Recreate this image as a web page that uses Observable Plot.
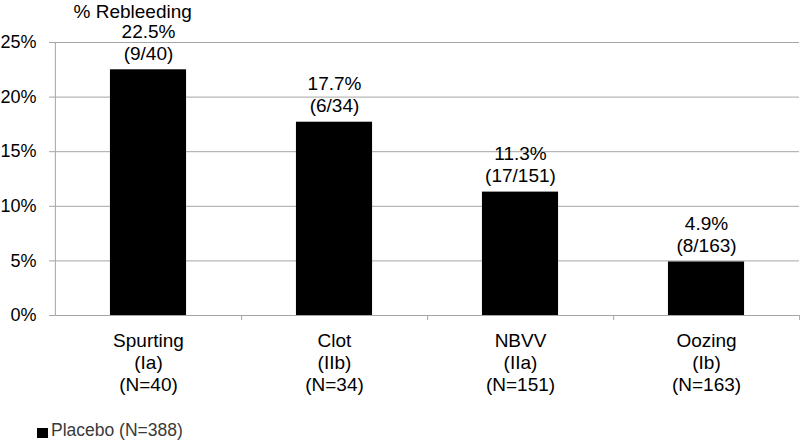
<!DOCTYPE html>
<html>
<head>
<meta charset="utf-8">
<script src="https://cdn.jsdelivr.net/npm/d3@7"></script>
<script src="https://cdn.jsdelivr.net/npm/@observablehq/plot@0.6"></script>
<style>
  html, body { margin: 0; padding: 0; background: #fff; }
  body { width: 800px; height: 442px; overflow: hidden; font-family: "Liberation Sans", Arial, sans-serif; }
  #legend { height: 27px; position: relative; font-size: 17.5px; color: #3a3a3a; }
  #legend .sw { position: absolute; left: 37px; top: 13px; width: 11px; height: 10px; background: #000; }
  #legend .lb { position: absolute; left: 51px; top: 5px; line-height: 20px; }
</style>
</head>
<body>
<div id="chart"></div>
<div id="legend"><span class="sw"></span><span class="lb">Placebo (N=388)</span></div>
<script>
const names = ["Spurting", "Clot", "NBVV", "Oozing"];
const classes = ["(Ia)", "(IIb)", "(IIa)", "(Ib)"];
const groupN = ["(N=40)", "(N=34)", "(N=151)", "(N=163)"];
const rates = [22.5, 17.7, 11.3, 4.9];
const fractions = ["(9/40)", "(6/34)", "(17/151)", "(8/163)"];
const yTicks = [0, 5, 10, 15, 20, 25];
const yTitle = "% Rebleeding";

const data = names.map((n, i) => ({
  cat: `${n}\n${classes[i]}\n${groupN[i]}`,
  rate: rates[i],
  label: `${rates[i].toFixed(1)}%\n${fractions[i]}`
}));

const W = 800, H = 415, mL = 54, mR = 1, mT = 42, mB = 100;
const bw = (W - mL - mR) / names.length;
const inset = bw * (1 - 0.41) / 2;
const FS = 19;

const chart = Plot.plot({
  width: W, height: H,
  marginLeft: mL, marginRight: mR, marginTop: mT, marginBottom: mB,
  style: { fontFamily: "'Liberation Sans', Arial, sans-serif", fontSize: FS + "px", color: "#000", background: "#fff" },
  x: { type: "band", domain: data.map(d => d.cat), padding: 0, label: null },
  y: { domain: [0, 25], label: null },
  marks: [
    Plot.gridY(yTicks, { stroke: "#a6a6a6", strokeOpacity: 1 }),
    Plot.axisY(yTicks, { tickSize: 5, tickPadding: 13, stroke: "#a6a6a6", tickFormat: d => d + "%", label: null, fontSize: 18 }),
    Plot.ruleX([0], { x: () => data[0].cat, dx: -bw / 2, stroke: "#a6a6a6" }),
    Plot.barY(data, { x: "cat", y: "rate", fill: "#000", insetLeft: inset, insetRight: inset }),
    Plot.ruleX(data, { x: "cat", y1: 0, y2: 0, dx: bw / 2, insetBottom: -5, stroke: "#a6a6a6" }),
    Plot.axisX({ tickSize: 0, tickPadding: 16, lineHeight: 1.15, fontSize: FS, label: null }),
    Plot.text(data, { x: "cat", y: "rate", text: "label", lineAnchor: "bottom", lineHeight: 1.17, dy: -10, fontSize: FS, fill: "#000" }),
    Plot.text([yTitle], { frameAnchor: "top-left", textAnchor: "start", lineAnchor: "bottom", dx: 19, dy: -25, fontSize: FS, fill: "#000" })
  ]
});
document.getElementById("chart").appendChild(chart);
</script>
</body>
</html>
